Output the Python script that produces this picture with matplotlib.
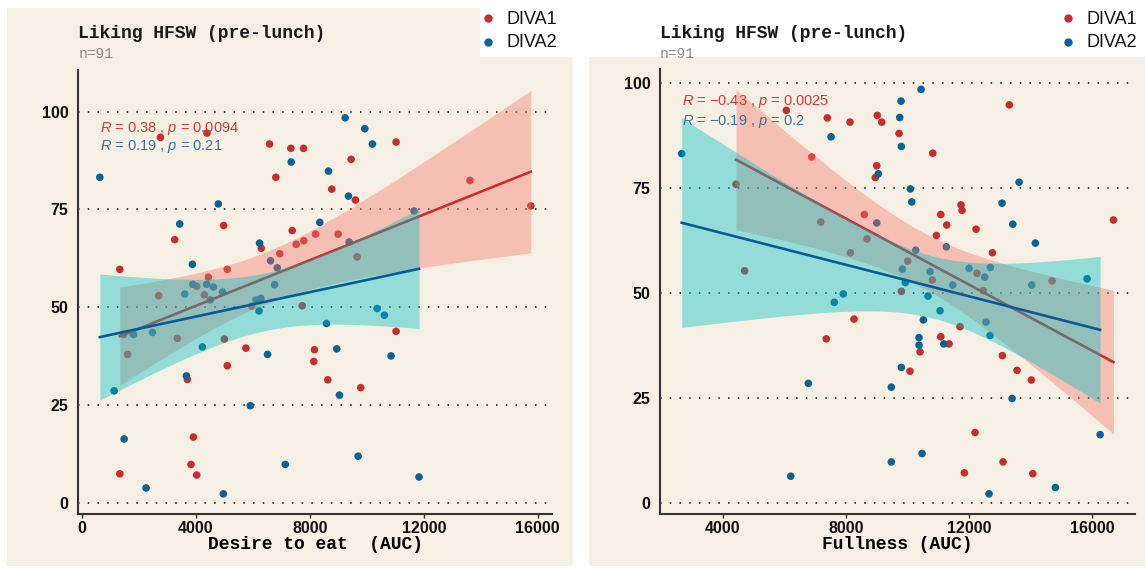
import numpy as np
import matplotlib
matplotlib.use('Agg')
import matplotlib.pyplot as plt
from matplotlib.patches import Rectangle
from matplotlib.lines import Line2D

plt.rcParams['mathtext.fontset'] = 'custom'
plt.rcParams['mathtext.it'] = 'Liberation Sans:italic'
plt.rcParams['mathtext.rm'] = 'Liberation Sans'

# --- data ---
# left panel: Desire to eat (AUC) vs liking
desire_d1_x = [2760, 4393, 6590, 7336, 7780, 6810, 4978, 3261, 7384, 7524, 7791, 6298, 6950,
               1335, 5107, 4442, 2700, 4300, 4030, 5959, 7735, 1464, 3355, 5002, 1603, 5760,
               5107, 3706, 3916, 1335, 3833, 4032, 9451, 8772, 9602, 13620, 15757, 8200, 8995,
               9661, 11027, 11027, 8165, 8141, 8631, 9788]
desire_d1_y = [93.4, 94.5, 91.7, 90.6, 90.6, 83.2, 70.9, 67.3, 69.6, 66.1, 67.0, 65.1, 63.7,
               59.7, 59.7, 57.7, 53.0, 53.2, 55.4, 50.3, 50.4, 43.1, 42.1, 41.9, 38.0, 39.6,
               35.1, 31.6, 16.9, 7.5, 9.9, 7.2, 87.8, 80.2, 77.4, 82.4, 75.9, 68.7, 68.7,
               62.9, 92.2, 43.9, 39.2, 36.2, 31.5, 29.5]
desire_d2_x = [634, 7349, 4791, 3436, 6239, 6624, 6859, 3881, 6765, 3894, 4385, 4620, 4511,
               4940, 3612, 6113, 6280, 6218, 1815, 2480, 4231, 6519, 3671, 1135, 5913, 1486,
               2256, 4967, 7139, 9241, 9928, 10197, 8656, 9357, 11658, 8351, 9381, 10362,
               10618, 8586, 8947, 10852, 9041, 9696, 11833]
desire_d2_y = [83.2, 87.1, 76.4, 71.3, 66.4, 61.9, 60.1, 61.0, 55.8, 55.9, 55.9, 55.2, 51.9,
               53.9, 53.4, 51.9, 52.3, 49.1, 43.1, 43.6, 39.9, 38.0, 32.5, 28.7, 24.9, 16.4,
               3.9, 2.4, 9.9, 98.4, 95.6, 91.7, 84.8, 78.4, 74.6, 71.7, 66.7, 49.7,
               48.0, 45.9, 39.4, 37.6, 27.6, 12.0, 6.7]

# right panel: Fullness (AUC) vs liking
full_d1_x = [6062, 7393, 8130, 6886, 4429, 7179, 8594, 8682, 8140, 4711, 9016, 9159, 8997,
             8951, 9721, 10815, 13302, 11734, 11766, 11075, 11269, 12221, 10932, 16679, 12750,
             10003, 10802, 12253, 14688, 9796, 12458, 10403, 11075, 11344, 11701, 13075, 13552,
             14016, 10078, 12188, 13097, 11841, 14062, 8260, 7360]
full_d1_y = [93.6, 91.8, 90.8, 82.5, 76.0, 67.0, 68.8, 63.0, 59.7, 55.4, 92.4, 90.8, 80.4,
             77.6, 88.1, 83.4, 94.9, 71.1, 69.8, 68.8, 66.3, 65.3, 63.8, 67.5, 59.7,
             57.7, 53.2, 54.8, 53.0, 50.5, 50.7, 36.1, 39.7, 38.0, 42.1, 35.2, 31.7,
             29.4, 31.5, 16.9, 9.9, 7.3, 7.1, 43.9, 39.2]
full_d2_x = [2666, 7513, 8997, 7912, 9049, 10435, 9786, 9743, 9796, 10088, 10133, 13617, 13065,
             13412, 14146, 11256, 10263, 9828, 10727, 11464, 11994, 12503, 12685, 14029, 15825,
             9925, 10662, 11052, 10510, 10370, 10370, 11172, 12545, 12675, 13390, 9796, 9471,
             16247, 10468, 9471, 12643, 14795, 7620, 6776, 6204]
full_d2_y = [83.3, 87.3, 66.8, 49.9, 78.5, 98.6, 95.8, 91.9, 85.0, 74.9, 71.8, 76.5, 71.5,
             66.5, 62.0, 61.1, 60.3, 55.8, 55.2, 52.0, 56.0, 53.9, 56.2, 52.0, 53.5,
             52.6, 49.4, 45.9, 43.7, 39.5, 37.7, 38.0, 43.2, 40.0, 25.0, 32.4, 27.7,
             16.4, 11.9, 9.9, 2.3, 3.8, 47.9, 28.6, 6.5]

stats_desire = ['$R$ = 0.38 , $p$ = 0.0094', '$R$ = 0.19 , $p$ = 0.21']
stats_full = ['$R$ = \u22120.43 , $p$ = 0.0025', '$R$ = \u22120.19 , $p$ = 0.2']
group_labels = ['DIVA1', 'DIVA2']
title = 'Liking HFSW (pre-lunch)'
subtitle = 'n=91'

# colours
BG = '#F6F0E4'
RED = '#C62D2F'
BLUE = '#0B6294'
RED_LINE = '#C8302F'
BLUE_LINE = '#0A5A96'
RED_FILL = '#F8766D'
TEAL_FILL = '#00BFC4'
RED_TXT = '#CF3B3A'
BLUE_TXT = '#3A7499'

W, H = 1145, 568
fig = plt.figure(figsize=(W / 100, H / 100), dpi=100)
fig.patch.set_facecolor('white')


def fx(px):
    return px / W


def fy(py):
    return 1 - py / H


# panel backgrounds
fig.patches.append(Rectangle((fx(7), fy(566)), fx(573) - fx(7), fy(8) - fy(566),
                             transform=fig.transFigure, facecolor=BG, edgecolor='none', zorder=-2))
fig.patches.append(Rectangle((fx(589), fy(566)), fx(1145) - fx(589), fy(8) - fy(566),
                             transform=fig.transFigure, facecolor=BG, edgecolor='none', zorder=-2))


def fit_band(x, y, n_pts=100, tval=2.0167):
    # linear fit with 95% confidence band, like geom_smooth(method = "lm")
    x = np.asarray(x, float)
    y = np.asarray(y, float)
    b, a = np.polyfit(x, y, 1)
    xs = np.linspace(x.min(), x.max(), n_pts)
    yhat = a + b * xs
    resid = y - (a + b * x)
    s = np.sqrt(np.sum(resid ** 2) / (len(x) - 2))
    se = s * np.sqrt(1 / len(x) + (xs - x.mean()) ** 2 / np.sum((x - x.mean()) ** 2))
    return xs, yhat, yhat - tval * se, yhat + tval * se


def panel(rect, x1, y1, x2, y2, xlim, ylim, xticks, xlabel, stats):
    ax = fig.add_axes(rect)
    ax.set_zorder(1)
    ax.set_facecolor('none')
    for v in [0, 25, 50, 75, 100]:
        ax.axhline(v, color='#444444', lw=1.4, ls=(0, (0.8, 4.2)), zorder=1)
    ax.scatter(x1, y1, s=30, color=RED, edgecolor='none', zorder=2)
    ax.scatter(x2, y2, s=30, color=BLUE, edgecolor='none', zorder=2)

    xs, yh, lo, hi = fit_band(x1, y1)
    ax.fill_between(xs, lo, hi, color=RED_FILL, alpha=0.4, lw=0, zorder=3)
    ax.plot(xs, yh, color=RED_LINE, lw=1.9, zorder=4)
    xs, yh, lo, hi = fit_band(x2, y2)
    ax.fill_between(xs, lo, hi, color=TEAL_FILL, alpha=0.4, lw=0, zorder=5)
    ax.plot(xs, yh, color=BLUE_LINE, lw=1.9, zorder=6)

    ax.set_xlim(xlim)
    ax.set_ylim(ylim)
    ax.set_xticks(xticks)
    ax.set_yticks([0, 25, 50, 75, 100])
    for side in ['top', 'right']:
        ax.spines[side].set_visible(False)
    for side in ['left', 'bottom']:
        ax.spines[side].set_color('#333333')
        ax.spines[side].set_linewidth(1.5)
    ax.tick_params(axis='x', length=3, width=1, color='#333333', pad=2)
    ax.tick_params(axis='y', length=0, pad=7)
    for lab in ax.get_xticklabels() + ax.get_yticklabels():
        lab.set_fontfamily('Liberation Sans')
        lab.set_fontweight('bold')
        lab.set_fontsize(11.5)
        lab.set_color('#111111')
    ax.set_xlabel(xlabel, family='Liberation Mono', weight='bold', fontsize=13, labelpad=0)

    x0 = min(min(x1), min(x2))
    ax.text(x0, 95.6, stats[0], color=RED_TXT, fontsize=10.5, family='Liberation Sans',
            ha='left', va='center', zorder=7)
    ax.text(x0, 91.0, stats[1], color=BLUE_TXT, fontsize=10.5, family='Liberation Sans',
            ha='left', va='center', zorder=7)
    return ax


ax1 = panel([fx(78.3), fy(514), fx(552.4) - fx(78.3), fy(70) - fy(514)],
            desire_d1_x, desire_d1_y, desire_d2_x, desire_d2_y,
            (-122, 16513), (-2.75, 110.6), [0, 4000, 8000, 12000, 16000],
            'Desire to eat  (AUC)', stats_desire)
ax2 = panel([fx(660.1), fy(514), fx(1135) - fx(660.1), fy(69.2) - fy(514)],
            full_d1_x, full_d1_y, full_d2_x, full_d2_y,
            (1965, 17380), (-2.5, 103.4), [4000, 8000, 12000, 16000],
            'Fullness (AUC)', stats_full)

# titles
for left in [78.3, 660.1]:
    fig.text(fx(left), fy(33), title, family='Liberation Mono', weight='bold',
             fontsize=13, ha='left', va='center', color='#1a1a1a')
    fig.text(fx(left), fy(54), subtitle, family='Liberation Mono',
             fontsize=10.5, ha='left', va='center', color='#8a8a8a')

# legends (white boxes top right of each panel)
for bx, dotx, txtx in [(480, 488, 507), (1059, 1068, 1087)]:
    fig.patches.append(Rectangle((fx(bx), fy(57)), fx(W) - fx(bx), fy(0) - fy(57),
                                 transform=fig.transFigure, facecolor='white',
                                 edgecolor='none', zorder=3))
    for i, (lab, c) in enumerate(zip(group_labels, [RED, BLUE])):
        yy = 18 + 23.5 * i
        dot = Line2D([fx(dotx)], [fy(yy)], marker='o', markersize=5,
                     color=c, linestyle='none', transform=fig.transFigure)
        dot.set_zorder(4)
        fig.add_artist(dot)
        fig.text(fx(txtx), fy(yy + 1), lab, family='Liberation Sans', fontsize=13,
                 ha='left', va='center', color='#111111', zorder=4)

fig.savefig('out.png', dpi=100, facecolor='white')
